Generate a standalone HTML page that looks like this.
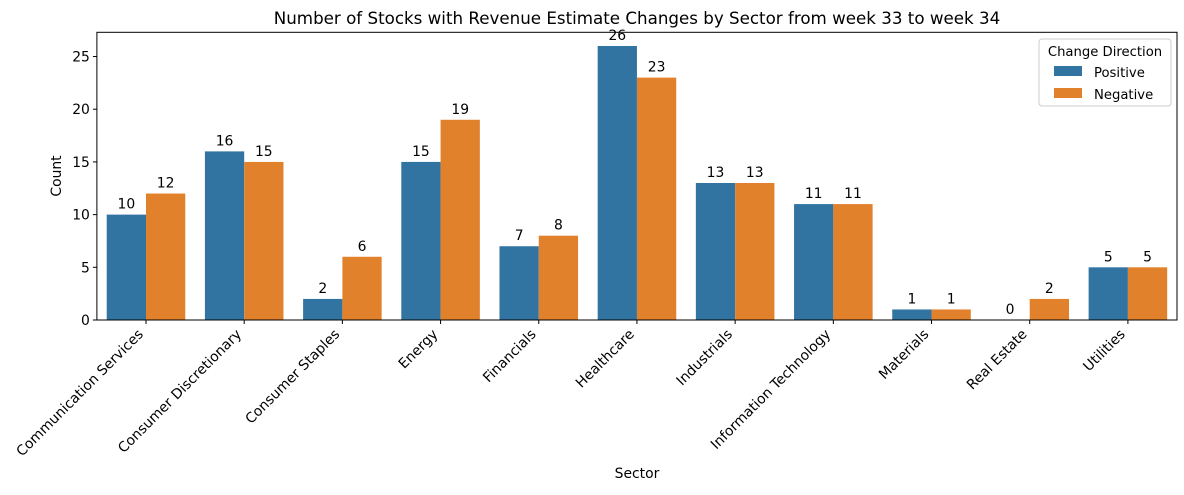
<!DOCTYPE html>
<html><head><meta charset="utf-8"><style>
body{margin:0;background:#fff;}
svg text{font-family:"DejaVu Sans","Liberation Sans",sans-serif;fill:#000;}
</style></head><body>
<svg id="chart" width="1184" height="490" xmlns="http://www.w3.org/2000/svg">
<text x="637" y="24" font-size="16.7" text-anchor="middle">Number of Stocks with Revenue Estimate Changes by Sector from week 33 to week 34</text>
<g id="plot"></g>
<text transform="translate(61,176) rotate(-90)" font-size="13.9" text-anchor="middle">Count</text>
<text x="637" y="478" font-size="13.9" text-anchor="middle">Sector</text>
<g>
<rect x="1039" y="39" width="132" height="67" rx="3" fill="#fff" stroke="#ccc"/>
<text x="1105" y="56" font-size="13.2" text-anchor="middle">Change Direction</text>
<rect x="1054" y="66" width="28" height="10" fill="#3274a1"/>
<text x="1094" y="77" font-size="13.2">Positive</text>
<rect x="1054" y="88" width="28" height="10" fill="#e1812c"/>
<text x="1094" y="99" font-size="13.2">Negative</text>
</g>
</svg>
<script>
const categories=["Communication Services","Consumer Discretionary","Consumer Staples","Energy","Financials","Healthcare","Industrials","Information Technology","Materials","Real Estate","Utilities"];
const positive=[10,16,2,15,7,26,13,11,1,0,5];
const negative=[12,15,6,19,8,23,13,11,1,2,5];
const yTicks=[0,5,10,15,20,25];
const NS="http://www.w3.org/2000/svg";
const L=96.9,R=1177,T=32.3,B=320,yMax=27.3;
const g=document.getElementById('plot');
const band=(R-L)/categories.length;
const x=i=>L+band*(i+0.5);
const y=v=>B-(v/yMax)*(B-T);
function mk(t,a,txt){const e=document.createElementNS(NS,t);for(const k in a)e.setAttribute(k,a[k]);if(txt!==undefined)e.textContent=txt;g.appendChild(e);return e;}
yTicks.forEach(v=>{
 const t=mk('line',{x1:L-4,x2:L,y1:y(v),y2:y(v),stroke:'#000'});
 
 
 const l=mk('text',{x:L-7,y:y(v)+5,'font-size':13.9,'text-anchor':'end'},String(v));
 
 
});
const bw=band*0.4;
categories.forEach((c,i)=>{
 [[positive,'#3274a1',-1,'positive'],[negative,'#e1812c',0,'negative']].forEach(([arr,col,off,nm])=>{
  const v=arr[i];const bx=x(i)+off*bw;
  const r=mk('rect',{x:bx,y:y(v),width:bw,height:B-y(v),fill:col});
  
  
  const l=mk('text',{x:bx+bw/2,y:y(v)-6,'font-size':13.9,'text-anchor':'middle'},String(v));
  
  
 });
 const t=mk('line',{x1:x(i),x2:x(i),y1:B,y2:B+4,stroke:'#000'});
 
 
 const l=mk('text',{transform:`translate(${x(i)-2},${B+15}) rotate(-45)`,'font-size':13.9,'text-anchor':'end'},c);
 
 
});
const f=mk('rect',{x:L,y:T,width:R-L,height:B-T,fill:'none',stroke:'#000','stroke-width':1});


</script>
</body></html>
